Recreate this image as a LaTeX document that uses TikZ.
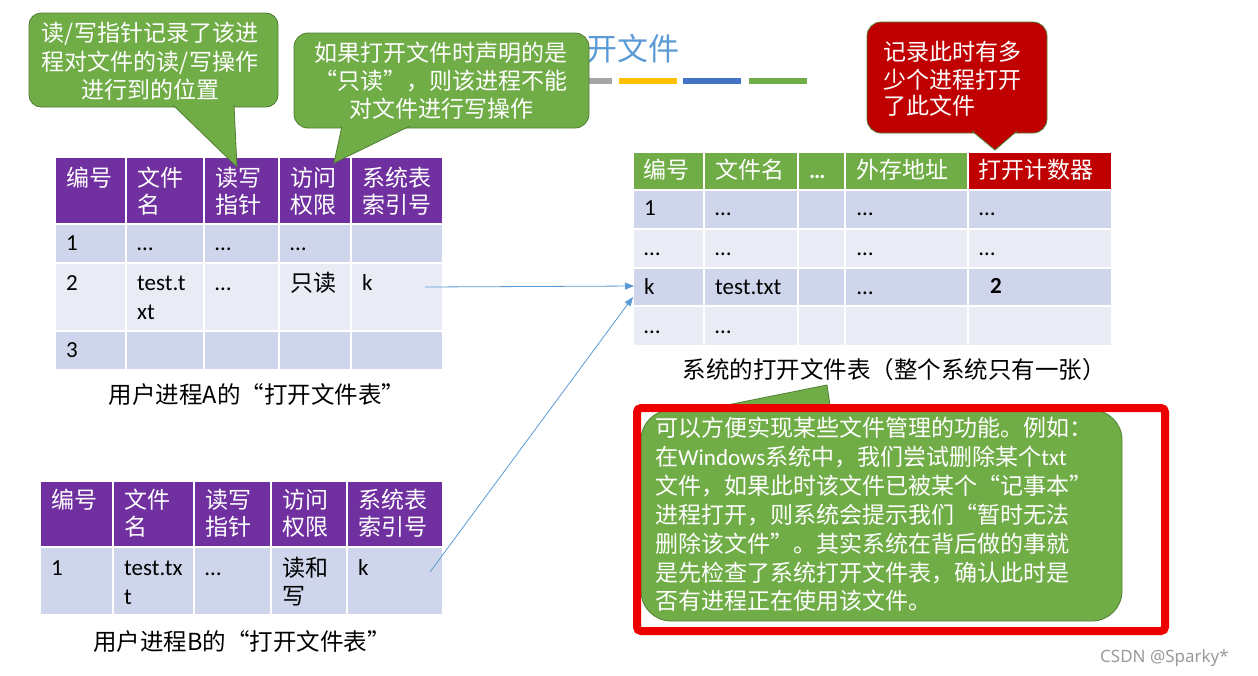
\documentclass[tikz,border=0pt]{standalone}
\usepackage{fontspec}
\setmainfont{Carlito}
\newfontfamily\cjk{Noto Sans CJK SC}
\newfontfamily\lat{Carlito}
\newfontfamily\wmfont{Noto Sans}
\usetikzlibrary{arrows.meta}
\definecolor{purp}{HTML}{7030A0}
\definecolor{gr}{HTML}{70AD47}
\definecolor{grdk}{HTML}{507E32}
\definecolor{rd}{HTML}{C00000}
\definecolor{rowA}{HTML}{CFD5EA}
\definecolor{rowB}{HTML}{E9EBF5}
\definecolor{lnblue}{HTML}{5B9BD5}
\definecolor{titleblue}{HTML}{5B9BD5}
\definecolor{redfr}{HTML}{EE0000}
\definecolor{barg}{HTML}{A5A5A5}
\definecolor{bary}{HTML}{FFC000}
\definecolor{barb}{HTML}{4472C4}
\definecolor{wmgray}{HTML}{9A9A9A}
\newcommand\tcell[6]{\node[cellbox,fill=#6,minimum width={(#4-#2-2)*1pt},minimum height={(#5-#3-2)*1pt}] (#1) at ({#2+1},{#3+1}) {};}
\begin{document}
\begin{tikzpicture}[x=1pt,y=-1pt,
  cellbox/.style={inner sep=0pt,outer sep=0pt,anchor=north west,draw=none},
  hd/.style={font=\cjk\fontsize{23}{27}\selectfont,text=white,anchor=base west,inner sep=0pt},
  tx/.style={font=\lat\fontsize{23}{29}\selectfont,anchor=base west,inner sep=0pt},
  txc/.style={font=\cjk\fontsize{23}{29}\selectfont,anchor=base west,inner sep=0pt},
  captext/.style={font=\cjk\fontsize{23.5}{27}\selectfont,anchor=base,inner sep=0pt},
  callout/.style={fill=gr,draw=grdk,line width=0.8pt},
  ctext/.style={font=\cjk\fontsize{23}{28}\selectfont,text=white,inner sep=0pt,anchor=base},
  ctextl/.style={font=\cjk\fontsize{23}{28}\selectfont,text=white,inner sep=0pt,anchor=base west},
  arr/.style={draw=lnblue,line width=0.8pt,-{Triangle[length=9pt,width=7pt]}},
]
\useasboundingbox (0,0) rectangle (1258,675);
\fill[white] (0,0) rectangle (1258,675);

% title and bars
\node[font=\cjk\fontsize{31}{31}\selectfont,text=titleblue,anchor=base east,inner sep=0pt] (title) at (680,60) {打开文件};
\fill[barg] (554,78) rectangle (612,84);
\fill[bary] (619,78) rectangle (677,84);
\fill[barb] (683,78) rectangle (741,84);
\fill[gr] (749,78) rectangle (807,84);

% table A
\foreach \n/\a/\b in {1/55/126,2/126/204,3/204/279,4/279/351,5/351/443}{
  \tcell{aH\n}{\a}{157}{\b}{224}{purp}
  \tcell{aRa\n}{\a}{224}{\b}{263}{rowA}
  \tcell{aRb\n}{\a}{263}{\b}{331}{rowB}
  \tcell{aRc\n}{\a}{331}{\b}{370}{rowA}
}
\node[hd] (ah1) at (66,186) {编号};
\node[hd] (ah2) at (137,186) {文件};
\node[hd] (ah2b) at (137,213) {名};
\node[hd] (ah3) at (215,186) {读写};
\node[hd] (ah3b) at (215,213) {指针};
\node[hd] (ah4) at (290,186) {访问};
\node[hd] (ah4b) at (290,213) {权限};
\node[hd] (ah5) at (362,186) {系统表};
\node[hd] (ah5b) at (362,213) {索引号};
\node[tx] (a11) at (66,250) {1};
\node[tx] (a12) at (137,250) {…};
\node[tx] (a13) at (215,250) {…};
\node[tx] (a14) at (290,250) {…};
\node[tx] (a21) at (66,290) {2};
\node[tx] (a22) at (137,290) {test.t};
\node[tx] (a22b) at (137,319) {xt};
\node[tx] (a23) at (215,290) {…};
\node[txc] (a24) at (290,291) {只读};
\node[tx] (a25) at (362,290) {k};
\node[tx] (a31) at (66,357) {3};
\node[captext] (capA) at (257,403) {用户进程A的“打开文件表”};

% table B
\foreach \n/\a/\b in {1/40/113,2/113/194,3/194/271,4/271/347,5/347/443}{
  \tcell{bH\n}{\a}{481}{\b}{547}{purp}
  \tcell{bRa\n}{\a}{547}{\b}{615}{rowA}
}
\node[hd] (bh1) at (51,508) {编号};
\node[hd] (bh2) at (124,508) {文件};
\node[hd] (bh2b) at (124,535) {名};
\node[hd] (bh3) at (205,508) {读写};
\node[hd] (bh3b) at (205,535) {指针};
\node[hd] (bh4) at (282,508) {访问};
\node[hd] (bh4b) at (282,535) {权限};
\node[hd] (bh5) at (358,508) {系统表};
\node[hd] (bh5b) at (358,535) {索引号};
\node[tx] (b11) at (51,575) {1};
\node[tx] (b12) at (124,575) {test.tx};
\node[tx] (b12b) at (124,604) {t};
\node[tx] (b13) at (205,575) {…};
\node[txc] (b14) at (282,576) {读和};
\node[txc] (b14b) at (282,604) {写};
\node[tx] (b15) at (358,575) {k};
\node[captext] (capB) at (242,650) {用户进程B的“打开文件表”};

% system table
\foreach \n/\a/\b/\c in {1/633/704/gr,2/704/798/gr,3/798/845/gr,4/845/968/gr,5/968/1112/rd}{
  \tcell{sH\n}{\a}{152}{\b}{190}{\c}
  \tcell{sa\n}{\a}{190}{\b}{229}{rowA}
  \tcell{sb\n}{\a}{229}{\b}{268}{rowB}
  \tcell{sc\n}{\a}{268}{\b}{306}{rowA}
  \tcell{sd\n}{\a}{306}{\b}{346}{rowB}
}
\node[hd] (sh1) at (643,178) {编号};
\node[hd] (sh2) at (715,178) {文件名};
\node[hd,font=\lat\bfseries\fontsize{23}{27}\selectfont] (sh3) at (809,178) {…};
\node[hd] (sh4) at (856,178) {外存地址};
\node[hd] (sh5) at (978,178) {打开计数器};
\node[tx] (s11) at (644,215) {1};
\node[tx] (s12) at (715,215) {…};
\node[tx] (s14) at (857,215) {…};
\node[tx] (s15) at (979,215) {…};
\node[tx] (s21) at (644,255) {…};
\node[tx] (s22) at (715,255) {…};
\node[tx] (s24) at (857,255) {…};
\node[tx] (s25) at (979,255) {…};
\node[tx] (s31) at (644,294) {k};
\node[tx] (s32) at (715,294) {test.txt};
\node[tx] (s34) at (857,294) {…};
\node[tx,font=\lat\bfseries\fontsize{23}{29}\selectfont] (s35) at (990,293) {2};
\node[tx] (s41) at (644,333) {…};
\node[tx] (s42) at (715,333) {…};
\node[captext] (capS) at (894,378) {系统的打开文件表（整个系统只有一张）};

% callout 1
\path[callout,rounded corners=12pt] (29,13) rectangle (278,107);
\path[callout] (173,105) -- (237,167) -- (234,105);
\node[ctext] (c1a) at (150,41) {读/写指针记录了该进};
\node[ctext] (c1b) at (150,70) {程对文件的读/写操作};
\node[ctext] (c1c) at (150,98) {进行到的位置};

% callout 2
\path[callout,rounded corners=14pt] (294,33) rectangle (589,128);
\path[callout] (342,126) -- (334,163) -- (410,126);
\node[ctext] (c2a) at (441,61) {如果打开文件时声明的是};
\node[ctext] (c2b) at (441,89) {“只读”，则该进程不能};
\node[ctext] (c2c) at (441,117) {对文件进行写操作};

% callout 3
\path[fill=rd,draw=grdk,line width=0.8pt,rounded corners=14pt] (867,22) rectangle (1047,133);
\path[fill=rd,draw=grdk,line width=0.8pt] (972,131) -- (995,150) -- (1017,131);
\node[ctextl] (c3a) at (883,60) {记录此时有多};
\node[ctextl] (c3b) at (883,88) {少个进程打开};
\node[ctextl] (c3c) at (883,114) {了此文件};

% arrows
\coordinate (a1) at (425,287);
\coordinate (b1) at (430,572);
\coordinate (t2) at (633,297);
\draw[arr] (a1) -- (s31.west -| sc1.west);
\draw[arr] (b1) -- (t2);

% bottom callout
\path[callout,rounded corners=30pt] (641,410) rectangle (1122,621);
\path[callout] (692,412) -- (827,385) -- (831,412);
\node[ctextl] (d1) at (655,436) {可以方便实现某些文件管理的功能。例如：};
\node[ctextl] (d2) at (655,465) {在{\lat Windows}系统中，我们尝试删除某个{\lat txt}};
\node[ctextl] (d3) at (655,494) {文件，如果此时该文件已被某个“记事本”};
\node[ctextl] (d4) at (655,523) {进程打开，则系统会提示我们“暂时无法};
\node[ctextl] (d5) at (655,552) {删除该文件”。其实系统在背后做的事就};
\node[ctextl] (d6) at (655,581) {是先检查了系统打开文件表，确认此时是};
\node[ctextl] (d7) at (655,609) {否有进程正在使用该文件。};
\draw[redfr,line width=8pt,rounded corners=4pt] (637,408) rectangle (1165,631);

% watermark
\node[font=\wmfont\fontsize{17}{20}\selectfont,text=wmgray,anchor=base west,inner sep=0pt] (wm) at (1100,662) {CSDN @Sparky*};
\end{tikzpicture}
\end{document}
